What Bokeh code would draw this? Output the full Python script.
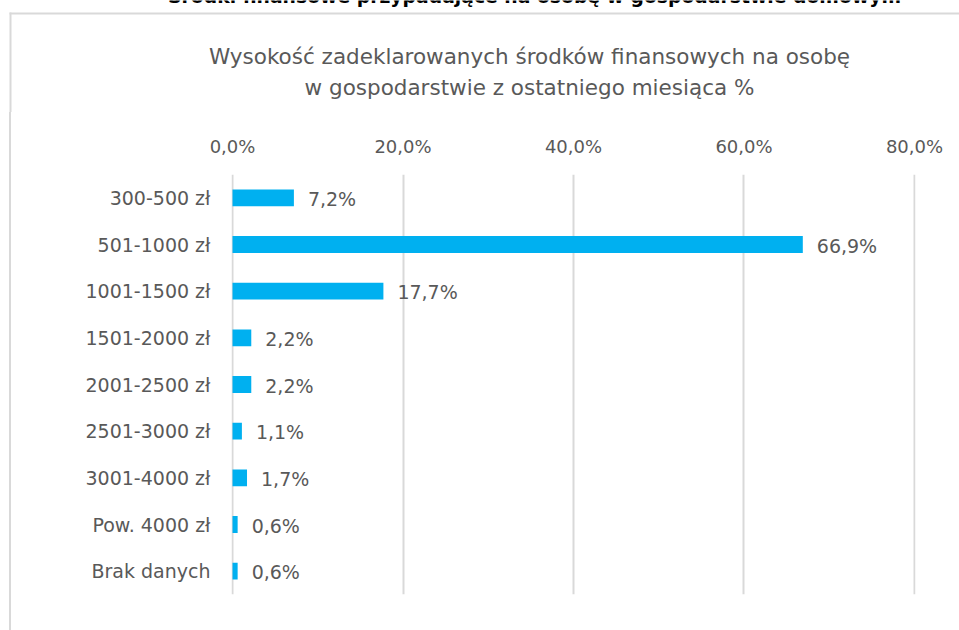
from bokeh.plotting import figure
from bokeh.models import ColumnDataSource, FixedTicker, Label, BoxAnnotation, Range1d, Spacer
from bokeh.layouts import column, row
from bokeh.core.properties import value
from bokeh.embed import file_html
from bokeh.resources import INLINE

# ---- data ----
categories = ["300-500 zł", "501-1000 zł", "1001-1500 zł", "1501-2000 zł",
              "2001-2500 zł", "2501-3000 zł", "3001-4000 zł", "Pow. 4000 zł",
              "Brak danych"]
shares = [7.2, 66.9, 17.7, 2.2, 2.2, 1.1, 1.7, 0.6, 0.6]
x_ticks = [0, 20, 40, 60, 80]
title_lines = ["Wysokość zadeklarowanych środków finansowych na osobę",
               "w gospodarstwie z ostatniego miesiąca %"]
top_caption = "Środki finansowe przypadające na osobę w gospodarstwie domowym"

FONT = "DejaVu Sans"
GRAY = "#595959"
BORDER = "#D9D9D9"

W, H_HEAD, H_MAIN = 959, 112, 518

# ---------- header (caption + chart title + border corner) ----------
head = figure(width=W, height=H_HEAD, output_backend="svg", toolbar_location=None,
              x_range=Range1d(0, W), y_range=Range1d(H_HEAD, 0),
              min_border=0, x_axis_type=None, y_axis_type=None)
head.outline_line_color = None
head.xgrid.visible = False
head.ygrid.visible = False

head.add_layout(Label(x=534, y=-4, text=top_caption, text_align="center",
                      text_baseline="alphabetic", text_font=FONT,
                      text_font_size="18.8px", text_font_style="bold",
                      text_color="#000000"))
for text, base in zip(title_lines, [55.5, 86.5]):
    head.add_layout(Label(x=529, y=base, text=text, text_align="center",
                          text_baseline="alphabetic", text_font=FONT,
                          text_font_size="21.5px", text_color=GRAY))
head.add_layout(BoxAnnotation(left=9, right=W, top=12, bottom=14,
                              fill_color=BORDER, fill_alpha=1, line_color=None))
head.add_layout(BoxAnnotation(left=9, right=11, top=12, bottom=H_HEAD,
                              fill_color=BORDER, fill_alpha=1, line_color=None))

# ---------- main chart ----------
labels = [f"{v:.1f}%".replace(".", ",") for v in shares]
src = ColumnDataSource(dict(cat=categories, val=shares, lab=labels))

p = figure(width=W - 11, height=H_MAIN, output_backend="svg", toolbar_location=None,
           y_range=list(reversed(categories)), x_range=Range1d(-0.12, 80.12),
           x_axis_location="above",
           min_border_left=220, min_border_right=44,
           min_border_top=62, min_border_bottom=36)

p.hbar(y="cat", right="val", left=0, height=0.36, source=src,
       fill_color="#00B0F0", line_color=None)

p.text(x="val", y="cat", text="lab", source=src, x_offset=14, y_offset=1,
       text_baseline="middle", text_align="left", text_color=GRAY,
       text_font=value(FONT), text_font_size="19px")

xa = p.xaxis[0]
xa.ticker = FixedTicker(ticks=x_ticks)
xa.major_label_overrides = {t: f"{t:.1f}%".replace(".", ",") for t in x_ticks}
xa.axis_line_color = None
xa.major_tick_line_color = None
xa.minor_tick_line_color = None
xa.major_label_standoff = 12
xa.major_label_text_font = FONT
xa.major_label_text_font_size = "18px"
xa.major_label_text_color = GRAY

ya = p.yaxis[0]
ya.axis_line_color = None
ya.major_tick_line_color = None
ya.minor_tick_line_color = None
ya.major_label_standoff = 15
ya.major_label_text_font = FONT
ya.major_label_text_font_size = "19px"
ya.major_label_text_color = GRAY

p.xgrid.ticker = FixedTicker(ticks=x_ticks)
p.xgrid.grid_line_color = BORDER
p.xgrid.grid_line_width = 2
p.ygrid.grid_line_color = None
p.outline_line_color = None

left_pad = Spacer(width=9, height=H_MAIN)
left_rule = Spacer(width=2, height=H_MAIN, styles={"background-color": BORDER})

layout = column(head, row(left_pad, left_rule, p))

open("out.html", "w").write(file_html(layout, INLINE))
